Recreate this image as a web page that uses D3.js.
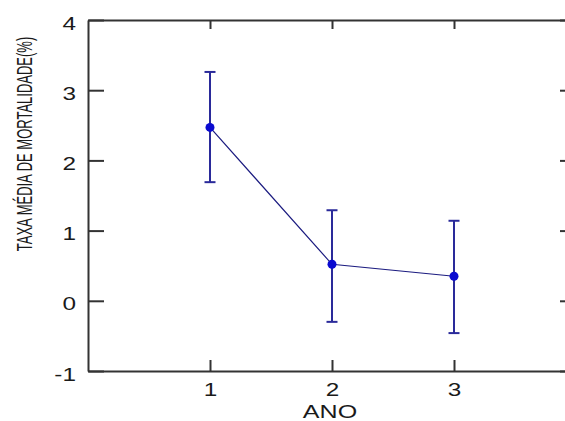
<!DOCTYPE html>
<html>
<head>
<meta charset="utf-8">
<script src="https://cdn.jsdelivr.net/npm/d3@7"></script>
<style>
html,body{margin:0;padding:0;background:#fff;}
svg{display:block;}
text{font-family:"Liberation Sans",Arial,sans-serif;fill:#1a1a1a;}
</style>
</head>
<body>
<svg id="chart" width="565" height="421"></svg>
<script>
const years = [1, 2, 3];
const means = [2.47, 0.52, 0.35];
const upper = [3.26, 1.29, 1.14];
const lower = [1.69, -0.30, -0.46];
const xTicks = [1, 2, 3];
const yTicks = [-1, 0, 1, 2, 3, 4];
const xLabel = "ANO";
const yLabel = "TAXA MÉDIA DE MORTALIDADE(%)";

const svg = d3.select("#chart");
const L = 88, R = 576, T = 20, B = 371;
const x = d3.scaleLinear().domain([0, 4]).range([L, R]);
const y = d3.scaleLinear().domain([-1, 4]).range([B, T]);
const fmt = d => String(d);
const FS = 19, SX = 1.28;

const axisColor = "#333";
const gx = svg.append("g").attr("transform", `translate(0,${B})`)
  .call(d3.axisBottom(x).tickValues(xTicks).tickSizeInner(-11).tickSizeOuter(0).tickFormat(fmt));
const gxt = svg.append("g").attr("transform", `translate(0,${T})`)
  .call(d3.axisTop(x).tickValues(xTicks).tickSizeInner(-9).tickSizeOuter(0).tickFormat(""));
const gy = svg.append("g").attr("transform", `translate(${L},0)`)
  .call(d3.axisLeft(y).tickValues(yTicks).tickSizeInner(-16).tickSizeOuter(0).tickFormat(fmt));
const gyr = svg.append("g").attr("transform", `translate(${R},0)`)
  .call(d3.axisRight(y).tickValues(yTicks).tickSizeInner(-16).tickSizeOuter(0).tickFormat(""));

[gx, gxt, gy, gyr].forEach(g => {
  g.attr("font-size", FS);
  g.select(".domain").attr("stroke", axisColor).attr("stroke-width", 2);
  g.selectAll(".tick line").attr("stroke", axisColor).attr("stroke-width", 2);
  g.selectAll(".tick text").attr("font-size", FS).attr("fill", "#1a1a1a")
    .attr("font-family", '"Liberation Sans",Arial,sans-serif');
});
gy.selectAll(".tick text").attr("x", 0).attr("y", 0).attr("dy", 9)
  .attr("text-anchor", "end").attr("transform", `translate(-12,0) scale(${SX},1)`);
gx.selectAll(".tick text").attr("x", 0).attr("y", 0).attr("dy", 0)
  .attr("text-anchor", "middle").attr("transform", `translate(0,25) scale(${SX},1)`);

const data = years.map((d, i) => ({x: d, m: means[i], u: upper[i], l: lower[i]}));
svg.append("path").datum(data)
  .attr("fill", "none").attr("stroke", "#1c1c80").attr("stroke-width", 1.2)
  .attr("d", d3.line().x(d => x(d.x)).y(d => y(d.m)));

const eb = svg.append("g").attr("stroke", "#2a2a9a").attr("stroke-width", 2);
eb.selectAll("line.v").data(data).join("line")
  .attr("x1", d => x(d.x)).attr("x2", d => x(d.x))
  .attr("y1", d => y(d.u)).attr("y2", d => y(d.l));
const cw = 5.5;
eb.selectAll("line.cu").data(data).join("line")
  .attr("x1", d => x(d.x) - cw).attr("x2", d => x(d.x) + cw)
  .attr("y1", d => y(d.u)).attr("y2", d => y(d.u));
eb.selectAll("line.cl").data(data).join("line")
  .attr("x1", d => x(d.x) - cw).attr("x2", d => x(d.x) + cw)
  .attr("y1", d => y(d.l)).attr("y2", d => y(d.l));

svg.append("g").selectAll("circle").data(data).join("circle")
  .attr("cx", d => x(d.x)).attr("cy", d => y(d.m)).attr("r", 4.5)
  .attr("fill", "#0a0ad0");

svg.append("text").attr("transform", `translate(330,418) scale(1.32,1)`)
  .attr("text-anchor", "middle").attr("font-size", FS).text(xLabel);
svg.append("text").attr("transform", `translate(32,${(35+253)/2}) rotate(-90) scale(1,1.7)`)
  .attr("text-anchor", "middle").attr("font-size", 13).text(yLabel);
</script>
</body>
</html>
